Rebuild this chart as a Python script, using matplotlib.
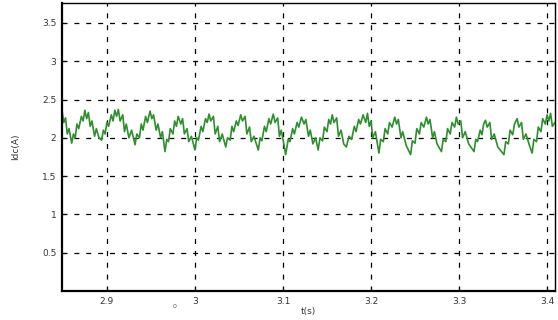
import matplotlib
matplotlib.use("Agg")
import matplotlib.pyplot as plt

# Idc(A) signal: (time s, current A)
t_vals = [2.849, 2.851, 2.853, 2.855, 2.857, 2.860, 2.862, 2.864, 2.866, 2.868,
          2.871, 2.873, 2.875, 2.877, 2.879, 2.881, 2.883, 2.886, 2.888, 2.891,
          2.894, 2.896, 2.898, 2.900, 2.902, 2.905, 2.907, 2.909, 2.911, 2.913,
          2.915, 2.918, 2.920, 2.922, 2.925, 2.928, 2.932, 2.934, 2.937, 2.939,
          2.941, 2.944, 2.946, 2.949, 2.951, 2.953, 2.956, 2.958, 2.961, 2.963,
          2.966, 2.968, 2.970, 2.972, 2.975, 2.977, 2.979, 2.981, 2.984, 2.986,
          2.988, 2.991, 2.993, 2.996, 3.000, 3.002, 3.004, 3.007, 3.009, 3.012,
          3.014, 3.016, 3.018, 3.021, 3.023, 3.026, 3.028, 3.031, 3.035, 3.037,
          3.040, 3.042, 3.044, 3.047, 3.049, 3.052, 3.054, 3.057, 3.059, 3.062,
          3.064, 3.067, 3.072, 3.074, 3.076, 3.079, 3.081, 3.084, 3.086, 3.089,
          3.091, 3.094, 3.096, 3.098, 3.101, 3.103, 3.106, 3.108, 3.111, 3.113,
          3.116, 3.118, 3.121, 3.124, 3.126, 3.129, 3.131, 3.134, 3.137, 3.140,
          3.142, 3.145, 3.147, 3.150, 3.152, 3.154, 3.156, 3.158, 3.161, 3.163,
          3.166, 3.169, 3.172, 3.175, 3.178, 3.181, 3.183, 3.186, 3.188, 3.191,
          3.194, 3.196, 3.198, 3.200, 3.202, 3.205, 3.209, 3.211, 3.214, 3.216,
          3.219, 3.221, 3.224, 3.227, 3.229, 3.231, 3.234, 3.236, 3.240, 3.245,
          3.247, 3.250, 3.252, 3.255, 3.257, 3.260, 3.263, 3.265, 3.267, 3.270,
          3.272, 3.275, 3.280, 3.282, 3.285, 3.287, 3.290, 3.292, 3.295, 3.297,
          3.299, 3.302, 3.304, 3.307, 3.311, 3.317, 3.319, 3.321, 3.324, 3.326,
          3.328, 3.330, 3.332, 3.335, 3.337, 3.340, 3.344, 3.351, 3.353, 3.356,
          3.358, 3.361, 3.363, 3.366, 3.368, 3.371, 3.373, 3.376, 3.380, 3.383,
          3.385, 3.388, 3.390, 3.393, 3.395, 3.398, 3.400, 3.402, 3.404, 3.406,
          3.409]
idc_vals = [2.36, 2.20, 2.26, 2.05, 2.12, 1.93, 2.05, 2.00, 2.18, 2.12,
            2.28, 2.22, 2.36, 2.25, 2.33, 2.15, 2.22, 2.02, 2.12, 2.00,
            1.97, 2.10, 2.05, 2.20, 2.15, 2.30, 2.22, 2.36, 2.28, 2.37,
            2.22, 2.30, 2.08, 2.18, 2.00, 2.10, 1.91, 2.05, 2.00, 2.18,
            2.10, 2.28, 2.20, 2.35, 2.25, 2.30, 2.10, 2.18, 2.00, 2.08,
            1.82, 1.98, 1.95, 2.12, 2.05, 2.22, 2.15, 2.28, 2.18, 2.25,
            2.05, 2.12, 1.95, 2.02, 1.84, 2.00, 1.97, 2.15, 2.08, 2.25,
            2.20, 2.31, 2.22, 2.28, 2.05, 2.15, 1.95, 2.05, 1.88, 2.00,
            1.97, 2.15, 2.08, 2.22, 2.16, 2.30, 2.22, 2.28, 2.05, 2.14,
            1.95, 2.02, 1.84, 2.00, 1.96, 2.15, 2.08, 2.25, 2.18, 2.31,
            2.20, 2.26, 2.02, 2.10, 1.92, 1.78, 1.98, 1.95, 2.12, 2.05,
            2.20, 2.14, 2.27, 2.18, 2.24, 2.02, 2.10, 1.92, 2.00, 1.84,
            2.00, 1.96, 2.14, 2.08, 2.24, 2.18, 2.30, 2.20, 2.26, 2.02,
            2.10, 1.92, 1.88, 2.02, 1.98, 2.15, 2.08, 2.24, 2.18, 2.30,
            2.20, 2.32, 2.15, 2.22, 2.00, 2.08, 1.80, 1.98, 1.95, 2.12,
            2.05, 2.20, 2.14, 2.27, 2.18, 2.24, 2.00, 2.08, 1.90, 1.78,
            1.96, 1.93, 2.12, 2.05, 2.20, 2.14, 2.27, 2.18, 2.24, 2.00,
            2.08, 1.92, 1.82, 1.98, 1.95, 2.12, 2.05, 2.20, 2.14, 2.27,
            2.18, 2.22, 2.00, 2.08, 1.92, 1.82, 1.98, 1.95, 2.10, 2.04,
            2.18, 2.23, 2.14, 2.20, 1.98, 2.05, 1.88, 1.78, 1.95, 1.92,
            2.10, 2.04, 2.18, 2.25, 2.14, 2.20, 1.98, 2.05, 1.90, 1.80,
            1.98, 1.95, 2.14, 2.08, 2.25, 2.18, 2.30, 2.22, 2.32, 2.15,
            2.20]

x_ticks = [2.9, 3.0, 3.1, 3.2, 3.3, 3.4]
x_tick_labels = ["2.9", "3", "3.1", "3.2", "3.3", "3.4"]
y_ticks = [0.5, 1.0, 1.5, 2.0, 2.5, 3.0, 3.5]
y_tick_labels = ["0.5", "1", "1.5", "2", "2.5", "3", "3.5"]

fig = plt.figure(figsize=(5.58, 3.2), dpi=100)
ax = fig.add_axes([62 / 558, 29 / 320, 493 / 558, 288 / 320])

ax.plot(t_vals, idc_vals, color="#2e8f2e", linewidth=1.2)

ax.set_xlim(2.849, 3.409)
ax.set_ylim(0, 3.76)
ax.set_xticks(x_ticks)
ax.set_xticklabels(x_tick_labels)
ax.set_yticks(y_ticks)
ax.set_yticklabels(y_tick_labels)

ax.grid(True, color="black", linestyle=(0, (4, 5.5)), linewidth=0.9)
ax.tick_params(direction="in", length=3, width=0.8, labelsize=6.5,
               labelcolor="#333333", pad=4, top=False, right=False)

for side in ["left", "bottom"]:
    ax.spines[side].set_linewidth(1.6)
for side in ["top", "right"]:
    ax.spines[side].set_linewidth(1.0)
for s in ax.spines.values():
    s.set_color("black")

ax.set_xlabel("t(s)", fontsize=6.5, color="#333333", labelpad=1)
ax.set_ylabel("Idc(A)", fontsize=6.5, color="#333333", labelpad=16)

fig.text(175 / 558, 1 - 307 / 320, "0", fontsize=4.5, color="#555555",
         ha="center", va="center")

fig.savefig("out.png", dpi=100)
